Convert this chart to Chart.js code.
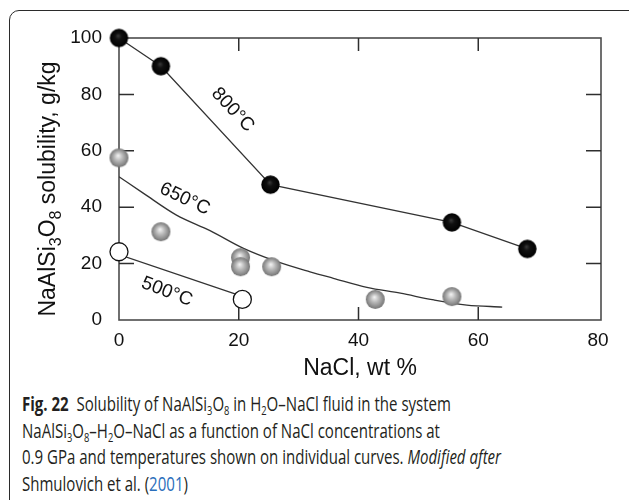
<!DOCTYPE html>
<html>
<head>
<meta charset="utf-8">
<script src="https://cdn.jsdelivr.net/npm/chart.js@4"></script>
<style>
  body { margin: 0; background: #fff; width: 629px; height: 500px; overflow: hidden; position: relative; }
  #box { position: absolute; left: 9px; top: 10px; width: 632px; height: 500px; border: 1.2px solid #2b2b2b; border-radius: 10px; box-sizing: border-box; }
  #chart { position: absolute; left: 0; top: 0; }
  #caption { position: absolute; left: 22px; top: 391px; font-family: "Open Sans", sans-serif; font-size: 19.5px; line-height: 26.5px; color: #231f20; white-space: nowrap; transform-origin: 0 0; }
  #caption div { display: inline-block; }
  #caption sub { font-size: 0.62em; vertical-align: -0.3em; line-height: 0; }
  #caption .ref { color: #2a6ebb; }
</style>
</head>
<body>
<div id="box"></div>
<canvas id="chart" width="629" height="390"></canvas>
<div id="caption">
  <div id="l1"><b>Fig. 22</b>&nbsp; Solubility of NaAlSi<sub>3</sub>O<sub>8</sub> in H<sub>2</sub>O–NaCl fluid in the system</div><br>
  <div>NaAlSi<sub>3</sub>O<sub>8</sub>–H<sub>2</sub>O–NaCl as a function of NaCl concentrations at</div><br>
  <div id="l3">0.9 GPa and temperatures shown on individual curves. <i>Modified after</i></div><br>
  <div>Shmulovich et al. (<span class="ref">2001</span>)</div>
</div>
<script>
const xTicks = [0, 20, 40, 60, 80];
const yTicks = [0, 20, 40, 60, 80, 100];

// 800 °C runs
const nacl800 = [0, 7, 25.3, 55.6, 68.2];
const sol800 = [100, 90, 48, 34.6, 25.2];

// 650 °C runs and the curve drawn through them
const nacl650 = [0, 7, 20.3, 20.3, 25.5, 42.8, 55.6];
const sol650 = [57.5, 31.3, 22.1, 18.9, 18.9, 7.3, 8.3];
const curveX650 = [0, 4.1, 9.6, 15.2, 20.8, 26.4, 31.9, 35.8, 41.4, 47, 52.6, 58.1, 64];
const curveY650 = [50.8, 44.9, 37.2, 31.7, 25.4, 20.7, 17.1, 14.8, 11.6, 9.5, 7.1, 5.3, 4.6];

// 500 °C runs and their line
const nacl500 = [0, 20.6];
const sol500 = [24.2, 7.3];
const lineX500 = [0, 20.6];
const lineY500 = [23.2, 8.4];

const curveLabels = [
  { text: '800°C', x: 19.0, y: 74.5, angle: 47 },
  { text: '650°C', x: 11.0, y: 42.9, angle: 25 },
  { text: '500°C', x: 8.0, y: 10.0, angle: 21 }
];

const pts = (xs, ys) => xs.map((x, i) => ({ x: x, y: ys[i] }));

// shaded balls used as point markers
function ball(r, stops) {
  const c = document.createElement('canvas');
  const s = Math.ceil(r * 2 + 2);
  c.width = c.height = s;
  const g = c.getContext('2d');
  const m = s / 2;
  const grad = g.createRadialGradient(m - r * 0.1, m - r * 0.25, 0, m, m, r);
  stops.forEach(st => grad.addColorStop(st[0], st[1]));
  g.fillStyle = grad;
  g.beginPath();
  g.arc(m, m, r, 0, Math.PI * 2);
  g.fill();
  return c;
}
const blackBall = ball(9.2, [[0, '#3c3c3c'], [0.35, '#111'], [1, '#000']]);
const grayBall = ball(9.5, [[0, '#f6f6f6'], [0.45, '#b8b8b8'], [0.85, '#888'], [1, '#707070']]);

const frame = {
  id: 'frame',
  beforeDatasetsDraw(chart) {
    const { ctx, chartArea: a, scales: { x, y } } = chart;
    ctx.save();
    ctx.strokeStyle = '#4d4d4d';
    ctx.lineWidth = 1.6;
    ctx.strokeRect(a.left, a.top, a.right - a.left, a.bottom - a.top);
    ctx.strokeStyle = '#2e2e2e';
    ctx.lineWidth = 1.5;
    ctx.beginPath();
    yTicks.slice(1, -1).forEach(v => {
      const py = y.getPixelForValue(v);
      ctx.moveTo(a.left, py); ctx.lineTo(a.left + 15, py);
      ctx.moveTo(a.right, py); ctx.lineTo(a.right - 15, py);
    });
    xTicks.slice(1, -1).forEach(v => {
      const px = x.getPixelForValue(v);
      ctx.moveTo(px, a.top); ctx.lineTo(px, a.top + 13);
      ctx.moveTo(px, a.bottom); ctx.lineTo(px, a.bottom - 13);
    });
    ctx.stroke();

    // y title with subscripts
    const parts = [['NaAlSi', 0], ['3', 1], ['O', 0], ['8', 1], [' solubility, g/kg', 0]];
    const big = '23px "Liberation Sans", Arial, sans-serif';
    const small = '16px "Liberation Sans", Arial, sans-serif';
    let w = 0;
    parts.forEach(p => { ctx.font = p[1] ? small : big; w += ctx.measureText(p[0]).width; });
    ctx.translate(55, (a.top + a.bottom) / 2 + 10);
    ctx.rotate(-Math.PI / 2);
    ctx.fillStyle = '#111';
    ctx.textBaseline = 'alphabetic';
    let cx = -w / 2;
    parts.forEach(p => {
      ctx.font = p[1] ? small : big;
      ctx.fillText(p[0], cx, p[1] ? 6 : 0);
      cx += ctx.measureText(p[0]).width;
    });
    ctx.restore();
  },
  afterDatasetsDraw(chart) {
    const { ctx, scales: { x, y } } = chart;
    ctx.save();
    ctx.font = '19px "Liberation Sans", Arial, sans-serif';
    ctx.fillStyle = '#111';
    ctx.textAlign = 'center';
    ctx.textBaseline = 'middle';
    curveLabels.forEach(l => {
      ctx.save();
      ctx.translate(x.getPixelForValue(l.x), y.getPixelForValue(l.y));
      ctx.rotate(l.angle * Math.PI / 180);
      ctx.fillText(l.text, 0, 0);
      ctx.restore();
    });
    ctx.restore();
  }
};

const tickFont = { family: '"Liberation Sans", Arial, sans-serif', size: 19 };

new Chart(document.getElementById('chart'), {
  type: 'scatter',
  data: {
    datasets: [
      {
        data: pts(nacl800, sol800), showLine: true, borderColor: '#333', borderWidth: 1.3,
        pointStyle: blackBall, clip: false
      },
      { data: pts(nacl650, sol650), pointStyle: grayBall, clip: false },
      {
        data: pts(nacl500, sol500), pointStyle: 'circle', pointRadius: 9,
        backgroundColor: '#fff', borderColor: '#111', borderWidth: 1.3, clip: false
      },
      {
        data: pts(curveX650, curveY650), showLine: true, pointRadius: 0, borderColor: '#333',
        borderWidth: 1.3, cubicInterpolationMode: 'monotone'
      },
      { data: pts(lineX500, lineY500), showLine: true, pointRadius: 0, borderColor: '#333', borderWidth: 1.3 }
    ]
  },
  options: {
    responsive: false,
    animation: false,
    events: [],
    layout: { padding: { top: 38, right: 28, left: 0, bottom: 0 } },
    plugins: { legend: { display: false }, tooltip: { enabled: false } },
    scales: {
      x: {
        type: 'linear', min: 0, max: 80.5,
        afterBuildTicks: s => { s.ticks = xTicks.map(v => ({ value: v })); },
        afterFit: s => { s.height = 70; },
        grid: { display: false, drawTicks: false },
        border: { display: false },
        ticks: { font: tickFont, color: '#111', padding: 9, maxRotation: 0 },
        title: {
          display: true, text: 'NaCl, wt %', color: '#111',
          font: { family: '"Liberation Sans", Arial, sans-serif', size: 23 },
          padding: { top: 0, bottom: 8 }
        }
      },
      y: {
        type: 'linear', min: 0, max: 100,
        afterBuildTicks: s => { s.ticks = yTicks.map(v => ({ value: v })); },
        afterFit: s => { s.width = 119; },
        grid: { display: false, drawTicks: false },
        border: { display: false },
        ticks: { font: tickFont, color: '#111', padding: 17 }
      }
    }
  },
  plugins: [frame]
});

// fit the caption lines to the column width
document.fonts.ready.then(() => {
  const w = document.getElementById('l3').getBoundingClientRect().width;
  document.getElementById('caption').style.transform = 'scaleX(' + (479 / w) + ')';
});
</script>
</body>
</html>
